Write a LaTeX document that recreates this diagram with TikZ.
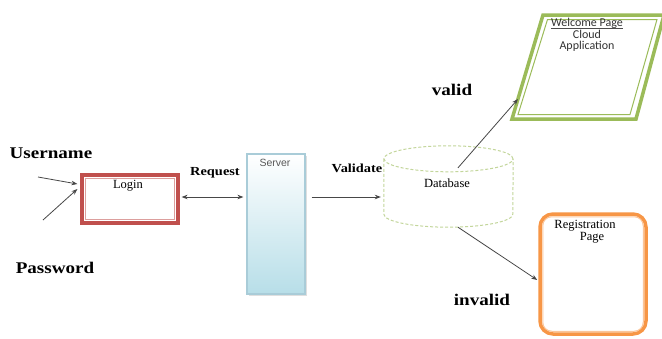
\documentclass[tikz,border=0pt]{standalone}
\usepackage{fontspec}
\setmainfont{Liberation Serif}
\newfontfamily\calibf{Carlito}
\newfontfamily\arialf{Liberation Sans}
\usetikzlibrary{arrows.meta,calc,shadows}
\definecolor{loginred}{HTML}{C0504D}
\definecolor{srvblue}{HTML}{B7DEE8}
\definecolor{srvborder}{HTML}{A9CCD8}
\definecolor{dbgreen}{HTML}{C3D69B}
\definecolor{welgreen}{HTML}{9BBB59}
\definecolor{regorange}{HTML}{F79646}
\begin{document}
\begin{tikzpicture}[x=1pt,y=1pt,
  bigl/.style={font=\fontsize{16.3}{18}\selectfont\bfseries, inner sep=0},
  midl/.style={font=\fontsize{12.3}{14}\selectfont\bfseries, inner sep=0},
  txt/.style={font=\fontsize{12.5}{14}\selectfont, inner sep=0},
  wtxt/.style={font=\calibf\fontsize{12}{14}\selectfont, text=black!80, inner sep=0},
  arr/.style={draw=black!72, line width=0.8pt, -{Stealth[length=6pt,width=4.5pt]}},
  darr/.style={draw=black!72, line width=0.8pt, {Stealth[length=6pt,width=4.5pt]}-{Stealth[length=6pt,width=4.5pt]}},
  loginbox/.style={draw=loginred, line width=3.2pt, minimum width=96, minimum height=48, inner sep=0},
  serverbox/.style={draw=srvborder, line width=1.2pt, top color=white, bottom color=srvblue,
     minimum width=58, minimum height=140, inner sep=0,
     drop shadow={opacity=0.25, shadow xshift=1.5pt, shadow yshift=-1.5pt}},
  dbbox/.style={minimum width=129, minimum height=81, inner sep=0},
  dbline/.style={draw=dbgreen, line width=1pt, dash pattern=on 3pt off 2pt},
  regbox/.style={draw=regorange, line width=3.5pt, rounded corners=13, minimum width=106, minimum height=120, inner sep=0},
]
\useasboundingbox[fill=white] (0,0) rectangle (662,-338);

% labels
\node[bigl] (user) at (51,-153) {\scalebox{1.17}[1]{Username}};
\node[bigl] (pass) at (55,-268) {\scalebox{1.17}[1]{Password}};

% login
\node[loginbox] (login) at (130,-199) {};
\draw[loginred!55, line width=1.1pt] ($(login.north west)+(4.8,-4.8)$) rectangle ($(login.south east)+(-4.8,4.8)$);
\node[txt] (loginlbl) at (128,-186) {Login};
\coordinate (u1) at (38,-177);
\coordinate (p1) at (43,-220);
\draw[arr] (u1) -- ($(login.west)+(-3,15)$);
\draw[arr] (p1) -- ($(login.west)+(-3,10)$);

% server
\node[midl] (req) at (215,-173) {\scalebox{1.17}[1]{Request}};
\node[serverbox] (server) at (276,-224) {};
\node[font=\arialf\fontsize{10.5}{12}\selectfont, text=black!65, inner sep=0] (srvlbl) at (275,-163) {Server};
\coordinate (rowy) at (0,-197);
\draw[darr] ($(login.east |- rowy)+(2,0)$) -- ($(server.west |- rowy)+(-3,0)$);

% database
\node[midl] (val) at (357,-168) {\scalebox{1.17}[1]{Validate}};
\node[dbbox] (db) at (448.5,-186.5) {};
\draw[arr] ($(server.east |- rowy)+(6,0)$) -- ($(db.west |- rowy)+(-3,0)$);
\draw[dbline] ($(db.north)+(0,-13)$) ellipse [x radius=64.5, y radius=13];
\draw[dbline] ($(db.north west)+(0,-13)$) -- ($(db.south west)+(0,13)$)
   arc[start angle=180, end angle=360, x radius=64.5, y radius=13] -- ($(db.north east)+(0,-13)$);
\node[txt] (dblbl) at (447,-183) {Database};

% welcome page
\draw[welgreen, line width=3.5pt, line join=miter] (543,-15) -- (664,-15) -- (636,-119) -- (512,-119) -- cycle;
\draw[welgreen, line width=1pt, line join=miter] (547.5,-19.5) -- (657,-19.5) -- (630,-114.5) -- (518,-114.5) -- cycle;
\node[wtxt] (w1) at (587,-23.5) {Welcome Page};
\draw[black!70, line width=0.6pt] ($(w1.base west)+(0,-1.6)$) -- ($(w1.base east)+(0,-1.6)$);
\node[wtxt] (w2) at (587,-34.5) {Cloud};
\node[wtxt] (w3) at (587,-46) {Application};
\coordinate (wel) at (518,-99);
\draw[arr] ($(db.north)+(9.5,-22)$) -- (wel);
\node[bigl] (valid) at (452,-90) {\scalebox{1.17}[1]{valid}};

% registration
\node[regbox] (reg) at (593,-274) {};
\draw[regorange!55, line width=1pt, rounded corners=9] ($(reg.north west)+(4.5,-4.5)$) rectangle ($(reg.south east)+(-4.5,4.5)$);
\node[txt] (r1) at (585,-226) {Registration};
\node[txt] (r2) at (592,-238) {Page};
\draw[arr] ($(db.south)+(9.5,0)$) -- ($(reg.west)+(-1,-6)$);
\node[bigl] (inv) at (482,-300) {\scalebox{1.17}[1]{invalid}};
\end{tikzpicture}
\end{document}
